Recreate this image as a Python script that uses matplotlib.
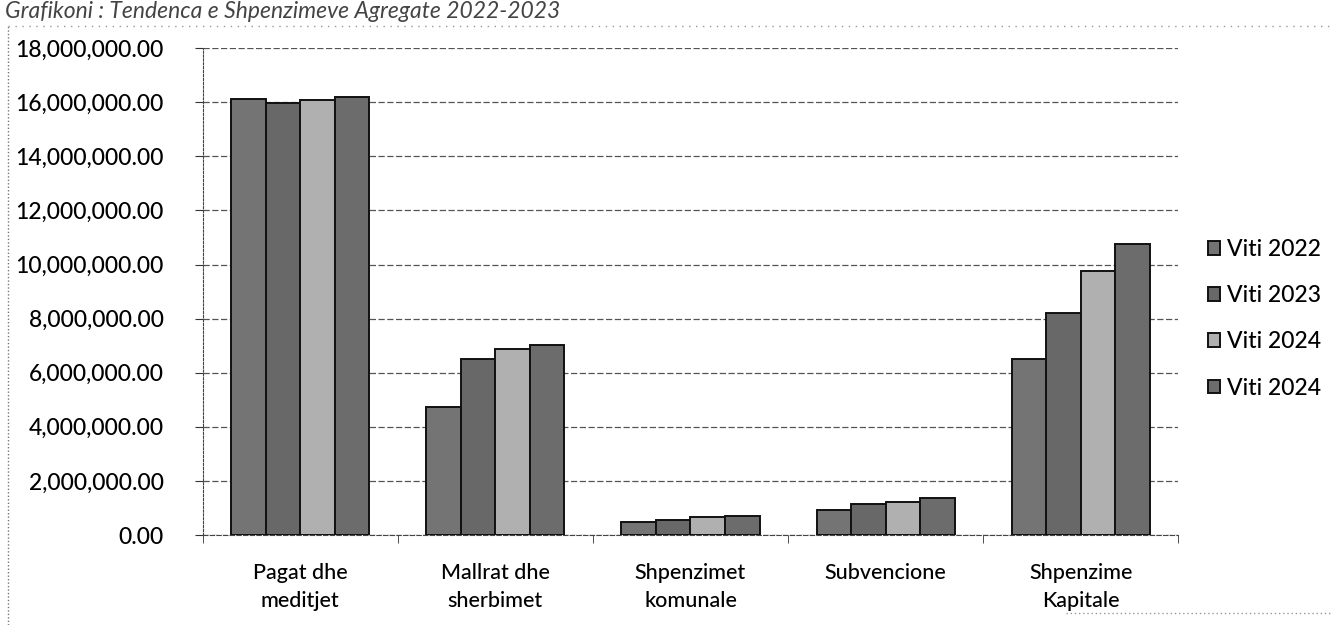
import matplotlib
matplotlib.use("Agg")
import matplotlib.pyplot as plt
import numpy as np
from matplotlib.ticker import FuncFormatter
from matplotlib.lines import Line2D

plt.rcParams['font.family'] = ['Lato', 'DejaVu Sans']

categories = ["Pagat dhe\nmeditjet", "Mallrat dhe\nsherbimet", "Shpenzimet\nkomunale",
              "Subvencione", "Shpenzime\nKapitale"]
series_names = ["Viti 2022", "Viti 2023", "Viti 2024", "Viti 2024"]
v2022 = [16120000, 4720000, 480000, 920000, 6500000]
v2023 = [15980000, 6510000, 550000, 1150000, 8200000]
v2024 = [16100000, 6880000, 650000, 1220000, 9770000]
v2024b = [16200000, 7030000, 720000, 1360000, 10750000]
yticks = [0, 2000000, 4000000, 6000000, 8000000, 10000000, 12000000, 14000000, 16000000, 18000000]
title = "Grafikoni : Tendenca e Shpenzimeve Agregate 2022-2023"

series = [v2022, v2023, v2024, v2024b]
colors = ["#747474", "#686868", "#b0b0b0", "#6c6c6c"]

fig = plt.figure(figsize=(13.33, 6.25), dpi=100)
ax = fig.add_axes([0.152, 0.144, 0.732, 0.779])

x = np.arange(len(categories))
w = 0.177
for i, (vals, c, name) in enumerate(zip(series, colors, series_names)):
    ax.bar(x + (i - 1.5) * w, vals, width=w, color=c, edgecolor="#111111",
           linewidth=1.4, label=name, zorder=3)

ax.set_xlim(-0.5, len(categories) - 0.5)
ax.set_ylim(0, 18000000)
ax.set_yticks(yticks)
ax.yaxis.set_major_formatter(FuncFormatter(lambda v, p: f"{v:,.2f}"))
ax.tick_params(axis='y', labelsize=16.5, length=6, pad=22, color="#333333", direction='out')
for lbl in ax.get_yticklabels():
    lbl.set_fontweight('medium')
ax.tick_params(axis='x', labelsize=15.5, length=0, pad=20)
ax.set_xticks(x)
ax.set_xticklabels(categories, linespacing=1.5, fontweight='medium')
ax.set_xticks(np.arange(-0.5, len(categories), 1.0), minor=True)
ax.tick_params(axis='x', which='minor', length=6, color="#333333")

ax.grid(axis='y', color="#555555", linestyle=(0, (5, 2)), linewidth=0.9, zorder=0)
for s in ['top', 'right']:
    ax.spines[s].set_visible(False)
ax.spines['left'].set_linestyle((0, (2, 1.5)))
ax.spines['left'].set_color("#444444")
ax.spines['bottom'].set_linestyle((0, (4, 2)))
ax.spines['bottom'].set_color("#444444")

leg = ax.legend(loc='center left', bbox_to_anchor=(0.906, 0.49),
                bbox_transform=fig.transFigure, frameon=False,
                prop={'size': 16.5, 'weight': 'medium'},
                handlelength=0.55, handleheight=0.55, handletextpad=0.3,
                labelspacing=1.1, borderpad=0.0, borderaxespad=0.0)

fig.text(0.004, 0.999, title, fontsize=16.5, style='italic', color="#444444",
         ha='left', va='top')

# outer chart-area border (dotted, as in scan)
fig.add_artist(Line2D([0.006, 0.006], [0.0, 0.958], transform=fig.transFigure,
                      color="#777777", linestyle=(0, (1, 1.5)), linewidth=1.0))
fig.add_artist(Line2D([0.006, 1.0], [0.958, 0.958], transform=fig.transFigure,
                      color="#999999", linestyle=(0, (1, 4)), linewidth=1.0))
fig.add_artist(Line2D([0.80, 1.0], [0.02, 0.02], transform=fig.transFigure,
                      color="#999999", linestyle=(0, (1, 2)), linewidth=1.0))

fig.savefig("out.png", dpi=100)
